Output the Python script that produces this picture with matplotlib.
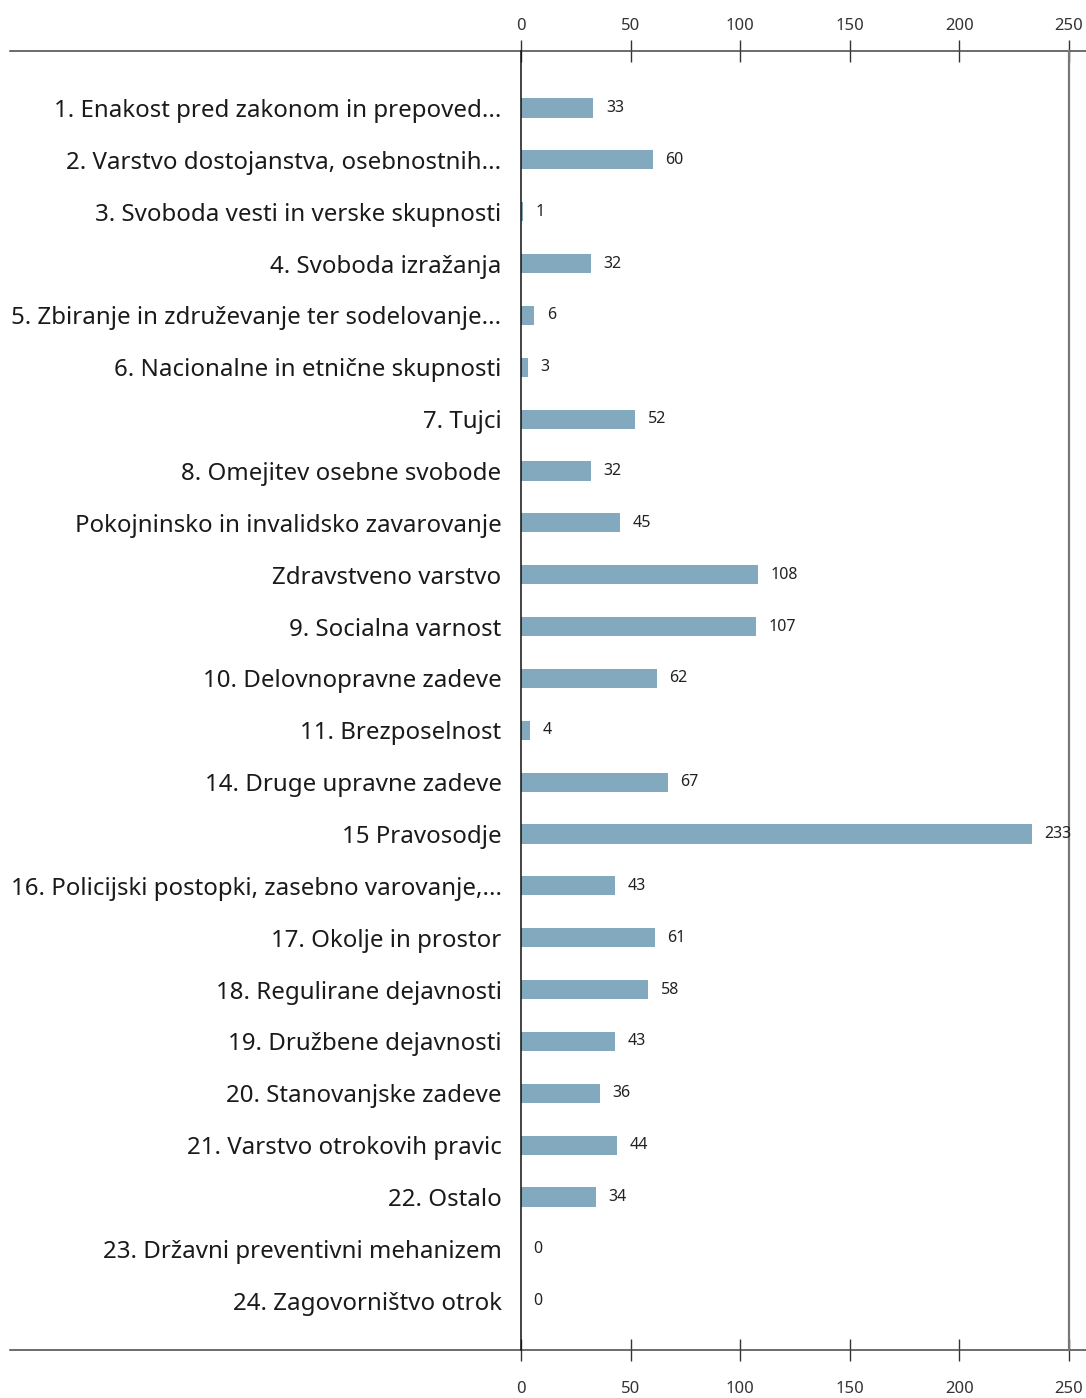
import matplotlib
matplotlib.use('Agg')
import matplotlib.pyplot as plt

categories = ['1. Enakost pred zakonom in prepoved...',
              '2. Varstvo dostojanstva, osebnostnih...',
              '3. Svoboda vesti in verske skupnosti',
              '4. Svoboda izražanja',
              '5. Zbiranje in združevanje ter sodelovanje...',
              '6. Nacionalne in etnične skupnosti',
              '7. Tujci',
              '8. Omejitev osebne svobode',
              'Pokojninsko in invalidsko zavarovanje',
              'Zdravstveno varstvo',
              '9. Socialna varnost',
              '10. Delovnopravne zadeve',
              '11. Brezposelnost',
              '14. Druge upravne zadeve',
              '15 Pravosodje',
              '16. Policijski postopki, zasebno varovanje,...',
              '17. Okolje in prostor',
              '18. Regulirane dejavnosti',
              '19. Družbene dejavnosti',
              '20. Stanovanjske zadeve',
              '21. Varstvo otrokovih pravic',
              '22. Ostalo',
              '23. Državni preventivni mehanizem',
              '24. Zagovorništvo otrok']
values = [33, 60, 1, 32, 6, 3, 52, 32, 45, 108, 107, 62, 4, 67, 233,
          43, 61, 58, 43, 36, 44, 34, 0, 0]
xticks = [0, 50, 100, 150, 200, 250]

plt.rcParams['font.family'] = ['Noto Sans', 'DejaVu Sans']

fig = plt.figure(figsize=(10.86, 13.98), dpi=100)
ax = fig.add_axes([521/1086, 1-1350/1398, 548/1086, 1299/1398])

ypos = list(range(len(categories)))
ax.barh(ypos, values, height=0.37, color='#82a9bd')
for y, v in zip(ypos, values):
    ax.annotate(str(v), (v, y), xytext=(9, 0), textcoords='offset points',
                va='center', ha='left', fontsize=11.5, color='#222222')

ax.set_xlim(0, 250)
ax.set_ylim(23.95, -1.1)
ax.set_yticks(ypos)
ax.set_yticklabels(categories, fontsize=17.3, color='#1a1a1a')
ax.tick_params(axis='y', length=0, pad=14)

ax.set_xticks(xticks)
ax.tick_params(axis='x', direction='inout', length=16, width=1,
               color='#333333', labelsize=12, labelcolor='#333333', pad=14)
sec = ax.secondary_xaxis('top')
sec.set_xticks(xticks)
sec.tick_params(direction='inout', length=16, width=1, color='#333333',
                labelsize=12, labelcolor='#333333', pad=4)
sec.spines['top'].set_visible(False)

for s in ['top', 'bottom']:
    ax.spines[s].set_visible(False)
ax.spines['left'].set_color('#111111')
ax.spines['left'].set_linewidth(1.1)
ax.spines['right'].set_color('#777777')
ax.spines['right'].set_linewidth(1.6)

# long horizontal rules at top and bottom
x0 = (10 - 521) / 548
x1 = (1086 - 521) / 548
for yy in [0, 1]:
    ax.plot([x0, x1], [yy, yy], transform=ax.transAxes, clip_on=False,
            color='#444444', lw=1.1)

fig.savefig('out.png', dpi=100)
